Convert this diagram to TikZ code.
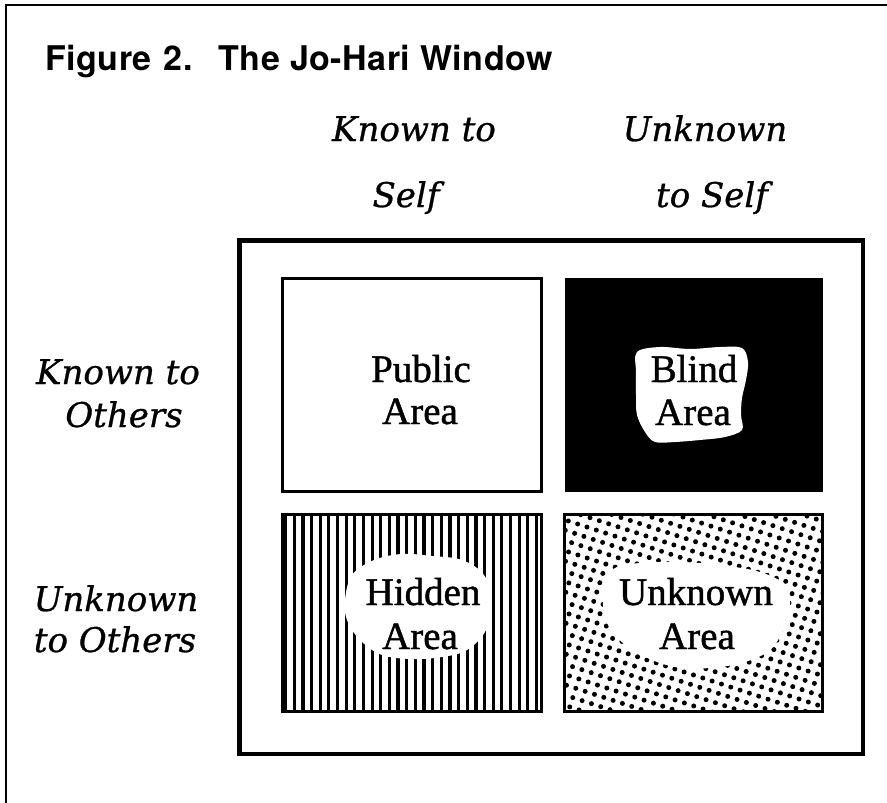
\documentclass[tikz,border=0pt]{standalone}
\usepackage{fontspec}
\setmainfont{Liberation Serif}
\newfontfamily\panefont[FakeBold=1.2]{Liberation Serif}
\newfontfamily\labelfont[FakeBold=0.8]{DejaVu Serif}
\newfontfamily\titlefont[LetterSpace=1.5]{TeX Gyre Heros}
\begin{document}
\begin{tikzpicture}[x=1pt,y=-1pt,
  quad/.style={rectangle,inner sep=0pt,line width=3pt},
  arealbl/.style={anchor=base,inner sep=0pt,font=\panefont\fontsize{39}{39}\selectfont},
  sidelbl/.style={anchor=base,inner sep=0pt,font=\labelfont\itshape\fontsize{34}{34}\selectfont},
  blob/.style={fill=white,draw=none}]
\useasboundingbox (0,0) rectangle (887,803);

% page frame (top and left rules)
\coordinate (fbl) at (6,803);
\coordinate (ftl) at (6,5);
\coordinate (ftr) at (887,5);
\draw[line width=2pt] (fbl) -- (ftl) -- (ftr);

% heading
\node[anchor=base west,inner sep=0pt,font=\titlefont\bfseries\fontsize{34}{34}\selectfont]
  (title) at (45,70) {Figure\hspace{12pt}2.\hspace{26pt}The Jo-Hari Window};

% column headings
\node[sidelbl] (ks1) at (414,141) {Known to};
\node[sidelbl] (ks2) at (406,207) {Self};
\node[sidelbl] (us1) at (705,141) {Unknown};
\node[sidelbl] (us2) at (712,207) {to Self};

% row headings
\node[sidelbl] (ko1) at (118,384) {Known to};
\node[sidelbl] (ko2) at (124,427) {Others};
\node[sidelbl] (uo1) at (116,611) {Unknown};
\node[sidelbl] (uo2) at (115,652) {to Others};

% window outline
\node[quad,draw,minimum width=622pt,minimum height=512pt] (window) at (551,497) {};

% the four panes
\node[quad,minimum width=256pt,minimum height=210pt] (public)  at (412,385) {};
\node[quad,minimum width=255pt,minimum height=211pt] (blind)   at (693.5,384.5) {};
\node[quad,minimum width=256pt,minimum height=194pt] (hidden)  at (412,613) {};
\node[quad,minimum width=255pt,minimum height=194pt] (unknown) at (693.5,613) {};

% public: plain
\draw[line width=3pt] (public.south west) rectangle (public.north east);

% blind: solid black with a clear patch
\fill (blind.south west) rectangle (blind.north east);
\fill[blob] plot[smooth cycle,tension=0.55] coordinates {
  (637,352) (660,347) (690,349) (720,347) (742,348) (748,362) (746,380)
  (742,398) (741,415) (742,430) (725,437) (700,440) (675,442) (655,442)
  (645,432) (637,415) (636,395) (636,372)};

% hidden: vertical rules with a clear patch
\begin{scope}
  \clip (hidden.south west) rectangle (hidden.north east);
  \foreach \k in {0,...,29}
    \fill ({284+\k*8.65},516) rectangle ++(3.2,194);
\end{scope}
\fill[blob] plot[smooth cycle,tension=0.6] coordinates {
  (345,600) (352,575) (374,560) (402,554) (432,556) (462,560) (484,575)
  (491,600) (486,630) (467,650) (442,657) (412,659) (382,655) (360,640)
  (347,620)};
\draw[line width=3pt] (hidden.south west) rectangle (hidden.north east);

% unknown: halftone dots with a clear patch
\begin{scope}
  \clip (unknown.south west) rectangle (unknown.north east);
  \foreach \i in {-19,...,19}
    \foreach \j in {-19,...,19}
      \fill ({693+\i*9.8*cos(18)-\j*9.8*sin(18)},{613+\i*9.8*sin(18)+\j*9.8*cos(18)}) circle (2.5pt);
\end{scope}
\fill[blob] plot[smooth cycle,tension=0.6] coordinates {
  (605,585) (615,568) (640,563) (680,562) (720,565) (760,572) (785,585)
  (790,605) (783,630) (770,650) (745,662) (710,668) (675,667) (645,657)
  (625,645) (608,625) (603,605)};
\draw[line width=3pt] (unknown.south west) rectangle (unknown.north east);

% pane labels
\node[arealbl] (pubA) at (421,382) {Public};
\node[arealbl] (pubB) at (420,424) {Area};
\node[arealbl] (blnA) at (694,382) {Blind};
\node[arealbl] (blnB) at (693,425) {Area};
\node[arealbl] (hidA) at (423,605) {Hidden};
\node[arealbl] (hidB) at (420,649) {Area};
\node[arealbl] (unkA) at (696,605) {Unknown};
\node[arealbl] (unkB) at (697,649) {Area};

% window outline on top
\draw[line width=3pt] (window.south west) rectangle (window.north east);
\end{tikzpicture}
\end{document}
